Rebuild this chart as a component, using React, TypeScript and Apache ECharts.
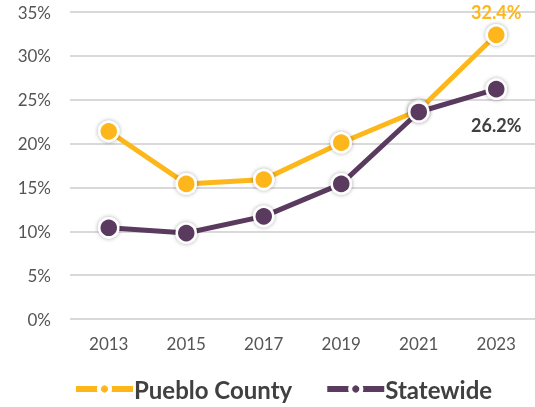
import React, { useEffect, useRef } from "react";
import * as echarts from "echarts";

const years = ["2013", "2015", "2017", "2019", "2021", "2023"];
const puebloCounty = [21.4, 15.4, 15.9, 20.1, 23.8, 32.4];
const statewide = [10.4, 9.8, 11.7, 15.4, 23.6, 26.2];
const yTicks = { min: 0, max: 35, interval: 5 };

const YELLOW = "#FDB71A";
const PURPLE = "#5A3A5E";
const FONT = "Lato, 'Noto Sans', sans-serif";

function withLastLabel(values: number[], label: any) {
  return values.map((v, i) =>
    i === values.length - 1 ? { value: v, label } : { value: v }
  );
}

export default function App() {
  const ref = useRef<HTMLDivElement>(null);
  useEffect(() => {
    if (!ref.current) return;
    const chart = echarts.init(ref.current, undefined, { renderer: "svg" });
    const symbolStyle = (color: string) => ({
      color,
      borderColor: "#ffffff",
      borderWidth: 2.5,
      shadowBlur: 4,
      shadowColor: "rgba(0,0,0,0.35)",
    });
    chart.setOption({
      animation: false,
      grid: { left: 70, right: -7, top: 12, bottom: 88, containLabel: false },
      legend: {
        bottom: 1,
        left: 68,
        itemWidth: 57,
        itemHeight: 14,
        itemGap: 32,
        lineStyle: { width: 6 },
        itemStyle: { borderColor: "#ffffff", borderWidth: 4, shadowBlur: 0 },
        textStyle: { fontFamily: FONT, fontSize: 24, fontWeight: "bold", color: "#404040", padding: [0, 0, 0, -4] },
        data: ["Pueblo County", "Statewide"],
      },
      xAxis: {
        type: "category",
        data: years,
        boundaryGap: true,
        axisLine: { show: false },
        axisTick: { show: false },
        axisLabel: { color: "#555555", fontFamily: FONT, fontSize: 17, margin: 16 },
      },
      yAxis: {
        type: "value",
        min: yTicks.min,
        max: yTicks.max,
        interval: yTicks.interval,
        axisLine: { show: false },
        axisTick: { show: false },
        splitLine: { lineStyle: { color: "#d9d9d9", width: 2 } },
        axisLabel: { formatter: "{value}%", color: "#555555", fontFamily: FONT, fontSize: 17, margin: 19 },
      },
      series: [
        {
          name: "Pueblo County",
          type: "line",
          symbol: "circle",
          symbolSize: 19,
          lineStyle: { color: YELLOW, width: 5 },
          itemStyle: symbolStyle(YELLOW),
          z: 2,
          data: withLastLabel(puebloCounty, {
            show: true,
            position: "top",
            distance: 3,
            formatter: "{c}%",
            color: YELLOW,
            fontFamily: FONT,
            fontSize: 18,
            fontWeight: "bold",
          }),
        },
        {
          name: "Statewide",
          type: "line",
          symbol: "circle",
          symbolSize: 19,
          lineStyle: { color: PURPLE, width: 5 },
          itemStyle: symbolStyle(PURPLE),
          z: 3,
          data: withLastLabel(statewide, {
            show: true,
            position: "bottom",
            distance: 16,
            formatter: "{c}%",
            color: "#404040",
            fontFamily: FONT,
            fontSize: 18,
            fontWeight: "bold",
          }),
        },
      ],
    });
    return () => chart.dispose();
  }, []);
  return <div ref={ref} style={{ width: 535, height: 407, position: "fixed", left: 0, top: 0 }} />;
}
